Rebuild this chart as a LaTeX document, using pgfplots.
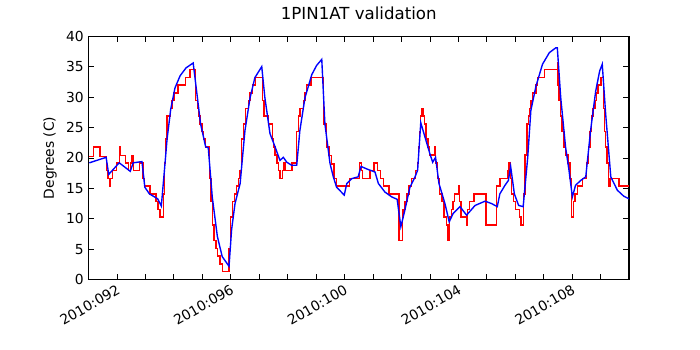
\documentclass[border=0pt]{standalone}
\usepackage{fontspec}
\setmainfont{DejaVu Sans}
\usepackage{pgfplots}
\pgfplotsset{compat=1.18}

\pgfplotstableread{
day    temp
91.03  20.2
91.17  21.8
91.40  20.2
91.64  17.9
91.69  16.6
91.73  15.4
91.78  16.6
91.85  17.9
91.99  19.2
92.08  21.8
92.13  20.4
92.29  19.2
92.41  17.9
92.47  19.2
92.53  20.4
92.59  17.9
92.79  19.2
92.91  16.6
92.96  15.4
93.16  14.1
93.37  12.8
93.44  11.5
93.51  10.3
93.63  14.1
93.67  19.2
93.71  23.1
93.76  26.9
93.89  28.1
93.94  29.4
94.01  30.7
94.15  32.0
94.40  33.2
94.57  34.5
94.77  29.4
94.83  28.1
94.87  26.9
94.92  25.6
94.99  24.3
95.04  23.1
95.12  21.8
95.26  16.6
95.31  12.8
95.36  9.0
95.41  6.4
95.48  5.1
95.53  3.9
95.62  2.6
95.70  1.3
95.94  5.1
96.00  10.3
96.06  12.8
96.14  14.1
96.21  15.4
96.27  16.6
96.33  17.9
96.38  23.1
96.45  25.6
96.52  28.1
96.62  29.4
96.68  30.7
96.76  32.0
96.88  33.2
97.11  29.4
97.17  26.9
97.32  25.6
97.46  23.1
97.50  21.8
97.56  20.5
97.62  19.2
97.67  17.9
97.73  16.6
97.81  17.9
97.85  19.2
97.91  17.9
98.16  19.2
98.32  24.3
98.38  26.9
98.43  28.1
98.55  29.4
98.61  30.7
98.67  32.0
98.82  33.2
99.26  25.6
99.37  21.8
99.46  20.4
99.55  19.0
99.63  16.6
99.72  15.4
100.17 16.6
100.52 19.2
100.60 17.9
100.64 16.6
100.90 17.9
101.04 19.2
101.15 17.9
101.27 16.6
101.36 15.4
101.56 14.1
101.92 6.4
102.04 10.3
102.06 11.5
102.12 12.8
102.19 14.1
102.27 15.4
102.35 16.6
102.49 17.9
102.56 19.2
102.60 21.8
102.63 24.3
102.67 26.9
102.70 28.1
102.76 26.9
102.82 25.6
102.87 23.1
102.93 21.8
102.99 20.5
103.17 21.8
103.20 19.2
103.26 16.6
103.34 14.1
103.43 12.8
103.50 10.3
103.58 9.0
103.64 6.4
103.70 10.3
103.75 11.5
103.81 12.8
103.87 14.1
104.01 15.4
104.05 12.8
104.10 10.3
104.28 9.0
104.32 11.5
104.40 12.8
104.55 14.1
104.97 9.0
105.35 15.4
105.46 16.6
105.75 17.9
105.78 19.2
105.83 16.6
105.88 14.1
105.93 12.8
106.00 11.5
106.16 10.3
106.21 9.0
106.29 14.1
106.35 20.5
106.42 25.6
106.47 26.9
106.51 28.1
106.56 29.4
106.61 30.7
106.73 32.0
106.79 33.2
107.02 34.5
107.48 35.7
107.50 32.0
107.54 29.4
107.59 26.9
107.65 24.3
107.71 21.8
107.77 20.5
107.85 19.2
107.93 16.6
107.98 10.3
108.04 12.8
108.10 14.1
108.18 15.4
108.36 16.6
108.50 19.2
108.57 21.8
108.63 24.3
108.68 26.9
108.74 28.1
108.80 29.4
108.86 30.7
108.91 32.0
109.01 33.2
109.10 28.1
109.14 24.3
109.18 21.8
109.23 19.2
109.28 15.4
109.33 16.6
109.65 15.4
110.00 15.4
}\measured

\pgfplotstableread{
day    temp
91.03  19.2
91.62  20.1
91.71  17.3
92.08  19.2
92.47  17.8
92.57  19.2
92.88  19.4
92.98  15.2
93.14  14.1
93.43  13.3
93.56  12.1
93.67  18.0
93.76  23.0
93.89  28.0
94.04  31.5
94.22  33.5
94.43  34.8
94.68  35.6
94.94  25.6
95.12  21.8
95.21  21.7
95.35  13.6
95.53  7.1
95.70  3.8
95.94  2.2
96.03  8.2
96.15  12.5
96.33  15.8
96.50  24.5
96.68  29.9
96.85  33.2
97.09  35.0
97.20  29.9
97.38  24.0
97.56  21.8
97.73  19.6
97.85  20.1
97.97  19.3
98.14  18.8
98.32  18.8
98.43  24.5
98.61  29.9
98.85  33.7
99.02  35.2
99.20  36.2
99.31  25.6
99.49  19.1
99.60  17.0
99.72  15.2
99.99  13.9
100.08 15.8
100.25 16.6
100.48 16.9
100.58 18.6
100.83 18.1
101.07 17.7
101.19 15.8
101.42 14.4
101.66 13.6
101.85 13.2
101.98 8.7
102.12 11.4
102.30 15.2
102.48 16.9
102.57 18.0
102.68 25.8
102.83 23.4
103.00 20.7
103.10 19.3
103.20 20.1
103.32 15.8
103.53 12.5
103.68 9.5
103.82 10.9
104.06 12.0
104.29 10.6
104.59 12.2
104.94 12.9
105.17 12.5
105.37 12.0
105.46 14.1
105.64 15.5
105.76 16.3
105.84 18.6
105.97 14.1
106.12 12.2
106.28 12.0
106.44 20.1
106.55 27.8
106.73 31.8
106.96 35.4
107.20 37.3
107.43 38.1
107.48 38.1
107.60 29.9
107.77 21.8
107.89 18.0
108.01 13.6
108.12 15.5
108.30 16.3
108.48 16.9
108.65 24.5
108.83 31.0
108.97 34.3
109.06 35.4
109.18 27.2
109.36 16.9
109.59 14.7
109.82 13.7
110.00 13.3
}\model

\begin{document}
\begin{tikzpicture}
\begin{axis}[
    at={(0,0)}, anchor=south west,
    scale only axis,
    width=5.405in, height=2.435in,
    xmin=91, xmax=110,
    ymin=0, ymax=40,
    xtick={92,96,100,104,108},
    xticklabels={2010:092,2010:096,2010:100,2010:104,2010:108},
    minor xtick={91,...,110},
    ytick={0,5,...,40},
    tick align=inside,
    major tick length=4pt,
    minor tick length=4pt,
    every tick/.style={black, line width=0.5pt},
    axis line style={line width=0.9pt},
    /pgf/number format/assume math mode=true,
    tick label style={font=\fontsize{10}{12}\selectfont},
    xticklabel style={rotate=30, anchor=north east, inner sep=2pt},
    title={1PIN1AT validation},
    title style={font=\fontsize{12}{14}\selectfont, at={(axis description cs:0.5,1.058)}, anchor=center},
    ylabel={Degrees (C)},
    ylabel style={font=\fontsize{10}{12}\selectfont, at={(axis description cs:-0.0712,0.5)}, anchor=center},
]
\addplot[const plot, red, line width=1pt] table[x=day, y=temp] {\measured};
\addplot[blue, line width=1pt] table[x=day, y=temp] {\model};
\end{axis}
\pgfresetboundingbox
\path[use as bounding box] (-0.885in,-0.703in) rectangle (6.115in,2.797in);
\end{tikzpicture}
\end{document}
